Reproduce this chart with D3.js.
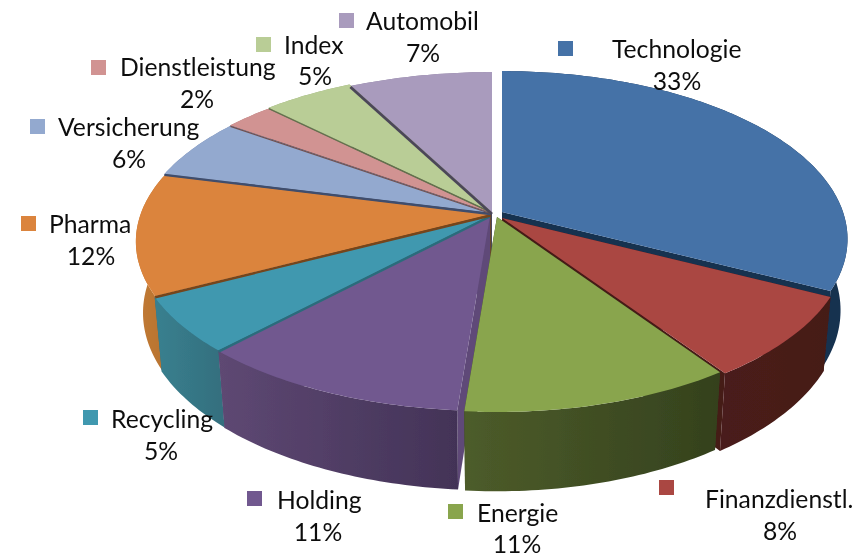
<!DOCTYPE html>
<html>
<head>
<meta charset="utf-8">
<script src="https://cdn.jsdelivr.net/npm/d3@7"></script>
<style>
    html, body { margin: 0; padding: 0; background: #fff; }
    text { font-family: Lato, "Open Sans", sans-serif; font-size: 24.7px; fill: #111; }
</style>
</head>
<body>
<div id="chart"></div>
<script>
const categories = ['Technologie', 'Finanzdienstl.', 'Energie', 'Holding', 'Recycling', 'Pharma', 'Versicherung', 'Dienstleistung', 'Index', 'Automobil'];
const shares = [32.4, 8.0, 10.85, 10.75, 5.35, 11.65, 5.9, 2.6, 4.85, 7.65];
const percentLabels = ['33%', '8%', '11%', '11%', '5%', '12%', '6%', '2%', '5%', '7%'];

const topColors = ['#4572a7', '#aa4643', '#89a54e', '#71588f', '#4198af', '#db843d', '#93a9cf', '#d19392', '#b9cd96', '#a99bbd'];
const wallLeft = ['#1a3558', '#4a1c1a', '#4d5c2a', '#5e4873', '#39808f', '#c27a36', '#7c8db0', '#b07c7b', '#9cae7e', '#8e82a0'];
const wallRight = ['#17304f', '#451a18', '#34411d', '#433357', '#34707f', '#b8742f', '#7c8db0', '#b07c7b', '#9cae7e', '#8e82a0'];
const edgeColors = ['#17304f', '#451a18', '#34411d', '#5e4a78', '#2c6c7c', '#74451c', '#3f4d6c', '#6f5050', '#64704e', '#4c4658'];

// how far each wedge is pulled out of the pie, in px
const pullOut = [[10, -1], [10, 5], [5, 4], [-2, 3], [-2, 2.5], [-1.5, 1.5], [-1.5, 0], [-1.5, -0.5], [-1, -1.5], [0, 0]];

// label layout: legend square, text start, text baseline, centre of percent label
const labelSpots = [
    { sx: 558, sy: 41, tx: 612, ty: 58, px: 677, py: 90 },
    { sx: 659, sy: 480, tx: 705, ty: 508, px: 780, py: 540 },
    { sx: 448, sy: 504, tx: 477, ty: 522, px: 517, py: 553 },
    { sx: 247, sy: 491, tx: 277, ty: 509, px: 318, py: 541 },
    { sx: 83, sy: 410, tx: 111, ty: 428, px: 161, py: 460 },
    { sx: 21, sy: 216, tx: 49, ty: 233, px: 91, py: 265 },
    { sx: 30, sy: 119, tx: 58, ty: 136, px: 129, py: 168 },
    { sx: 91, sy: 60, tx: 120, ty: 76, px: 197, py: 108 },
    { sx: 256, sy: 37, tx: 284, ty: 54, px: 315, py: 85 },
    { sx: 339, sy: 13, tx: 366, ty: 30, px: 423, py: 62 }
];

const width = 856,
    height = 557;

// perspective of the disc
const cx = 492,
    cy = 213,
    rLeft = 350,
    rRight = 341,
    tilt = 163.6,
    depth = 72,
    k = 0.161,
    m = 0.02;

function project(theta, r, z, i) {
    const x = Math.sin(theta) * r;
    const y = -Math.cos(theta) * r;
    const w = 1 - k * y + m * z;
    const R = x < 0 ? rLeft : rRight;
    return [cx + pullOut[i][0] + R * x / w, cy + pullOut[i][1] + (tilt * y + depth * z) / w];
}

function arcPoints(a0, a1, z, i) {
    const n = Math.max(2, Math.ceil((a1 - a0) * 60));
    return d3.range(n + 1).map(s => project(a0 + (a1 - a0) * s / n, 1, z, i));
}

const svg = d3.select('#chart')
    .append('svg')
    .attr('width', width)
    .attr('height', height);

const defs = svg.append('defs');
defs.append('filter')
    .attr('id', 'soft')
    .append('feGaussianBlur')
    .attr('stdDeviation', 0.5);

const line = d3.line();
const slices = d3.pie().sort(null).value(d => d)(shares);

// back wedges first, the front ones lie over their neighbours
const drawOrder = [9, 8, 7, 6, 5, 4, 0, 1, 3, 2];
const pieGroup = svg.append('g').attr('filter', 'url(#soft)');

drawOrder.forEach(i => {
    const d = slices[i];
    const g = pieGroup.append('g');
    const topArc = arcPoints(d.startAngle, d.endAngle, 0, i);
    const bottomArc = arcPoints(d.startAngle, d.endAngle, 1, i);
    const xs = topArc.map(p => p[0]);

    const grad = defs.append('linearGradient')
        .attr('id', 'wall' + i)
        .attr('gradientUnits', 'userSpaceOnUse')
        .attr('x1', d3.min(xs))
        .attr('x2', d3.max(xs))
        .attr('y1', 0)
        .attr('y2', 0);
    grad.append('stop').attr('offset', 0).attr('stop-color', wallLeft[i]);
    grad.append('stop').attr('offset', 1).attr('stop-color', wallRight[i]);

    // radial walls
    [d.startAngle, d.endAngle].forEach(a => {
        g.append('path')
            .attr('d', line([
                project(a, 0, 0, i),
                project(a, 1, 0, i),
                project(a, 1, 1, i),
                project(a, 0, 1, i)
            ]) + 'Z')
            .attr('fill', edgeColors[i]);
    });

    // outer wall
    g.append('path')
        .attr('d', line(topArc.concat(bottomArc.slice().reverse())) + 'Z')
        .attr('fill', 'url(#wall' + i + ')');

    // top face
    g.append('path')
        .attr('d', line([project(0, 0, 0, i)].concat(topArc)) + 'Z')
        .attr('fill', topColors[i]);
});

// dark seams between the wedges on the left
const seamWidths = { 4: 2.4, 5: 2.4, 6: 2.4, 7: 1.2, 8: 1.2, 9: 2.8 };
d3.range(4, 10).forEach(i => {
    const a = slices[i].startAngle;
    pieGroup.append('path')
        .attr('d', line([project(a, 0, 0, i), project(a, 1, 0, i)]))
        .attr('transform', 'translate(0,1)')
        .attr('fill', 'none')
        .attr('stroke', edgeColors[i])
        .attr('stroke-width', seamWidths[i]);
});

// labels
const labels = svg.append('g')
    .attr('filter', 'url(#soft)')
    .selectAll('g')
    .data(categories)
    .enter()
    .append('g');

labels.append('rect')
    .attr('x', (d, i) => labelSpots[i].sx)
    .attr('y', (d, i) => labelSpots[i].sy)
    .attr('width', 15)
    .attr('height', 15)
    .attr('fill', (d, i) => topColors[i]);

labels.append('text')
    .attr('x', (d, i) => labelSpots[i].tx)
    .attr('y', (d, i) => labelSpots[i].ty)
    .text(d => d);

labels.append('text')
    .attr('x', (d, i) => labelSpots[i].px)
    .attr('y', (d, i) => labelSpots[i].py)
    .attr('text-anchor', 'middle')
    .text((d, i) => percentLabels[i]);
</script>
</body>
</html>
